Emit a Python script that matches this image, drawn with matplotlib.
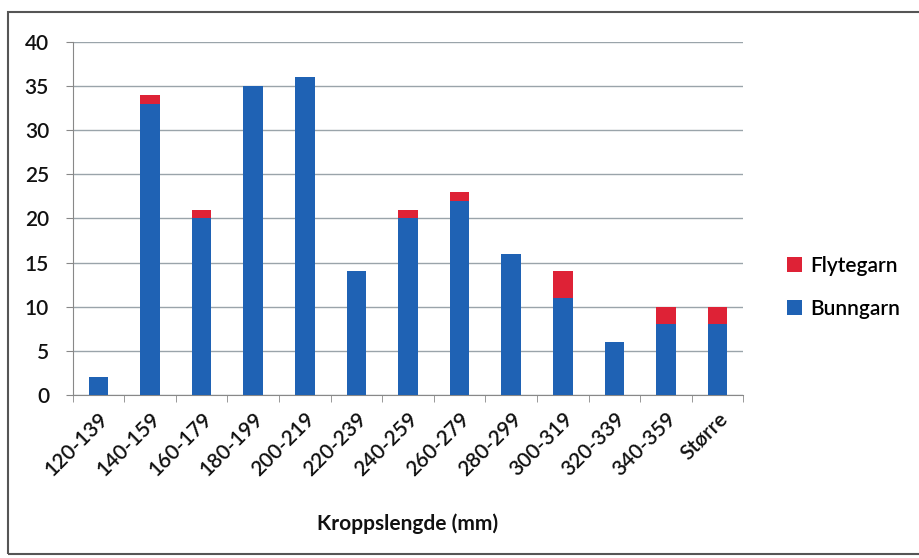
import matplotlib
matplotlib.use("Agg")
import matplotlib.pyplot as plt
from matplotlib.patches import Rectangle, Patch
import numpy as np

categories = ["120-139", "140-159", "160-179", "180-199", "200-219", "220-239",
              "240-259", "260-279", "280-299", "300-319", "320-339", "340-359", "Større"]
bunngarn = [2, 33, 20, 35, 36, 14, 20, 22, 16, 11, 6, 8, 8]
flytegarn = [0, 1, 1, 0, 0, 0, 1, 1, 0, 3, 0, 2, 2]
yticks = [0, 5, 10, 15, 20, 25, 30, 35, 40]

plt.rcParams['font.family'] = ['Lato', 'DejaVu Sans']

blue = "#1f62b4"
red = "#de2236"
txt = "#111111"

fig = plt.figure(figsize=(9.2, 5.58), dpi=100)
ax = fig.add_axes([0.079, 0.292, 0.729, 0.633])

x = np.arange(len(categories))
w = 0.38
ax.bar(x, bunngarn, width=w, color=blue, zorder=3, label="Bunngarn")
ax.bar(x, flytegarn, width=w, bottom=bunngarn, color=red, zorder=3, label="Flytegarn")

ax.set_xlim(-0.5, len(categories) - 0.5)
ax.set_ylim(0, 40)
ax.set_yticks(yticks)
ax.set_yticklabels([str(v) for v in yticks], fontsize=15, color=txt, fontweight="semibold")
ax.yaxis.grid(True, color="#9aa4aa", linewidth=1.0, zorder=0)
ax.set_axisbelow(True)

ax.set_xticks(x)
ax.set_xticklabels(categories, rotation=45, ha="right", rotation_mode="anchor",
                   fontsize=15, color=txt, fontweight="semibold")
ax.tick_params(axis="x", length=0, pad=10)
ax.set_xticks(np.arange(-0.5, len(categories), 1.0), minor=True)
ax.tick_params(axis="x", which="minor", length=5, color="#888888")
ax.tick_params(axis="y", length=5, color="#888888", pad=12)

for s in ["top", "right"]:
    ax.spines[s].set_visible(False)
ax.spines["left"].set_color("#888888")
ax.spines["bottom"].set_color("#888888")

ax.set_xlabel("Kroppslengde (mm)", fontsize=15, fontweight="bold", color=txt, labelpad=24)

handles = [Patch(facecolor=red, label="Flytegarn"), Patch(facecolor=blue, label="Bunngarn")]
fig.legend(handles=handles, loc="center left", bbox_to_anchor=(0.835, 0.485),
           frameon=False, fontsize=15, handlelength=0.7, handleheight=0.7,
           handletextpad=0.4, labelspacing=1.1, prop={"size": 15, "weight": "semibold"})

fig.patches.append(Rectangle((0.009, 0.008), 0.995, 0.97, transform=fig.transFigure,
                             fill=False, edgecolor="#555555", linewidth=1.5))

fig.savefig("out.png", dpi=100)
